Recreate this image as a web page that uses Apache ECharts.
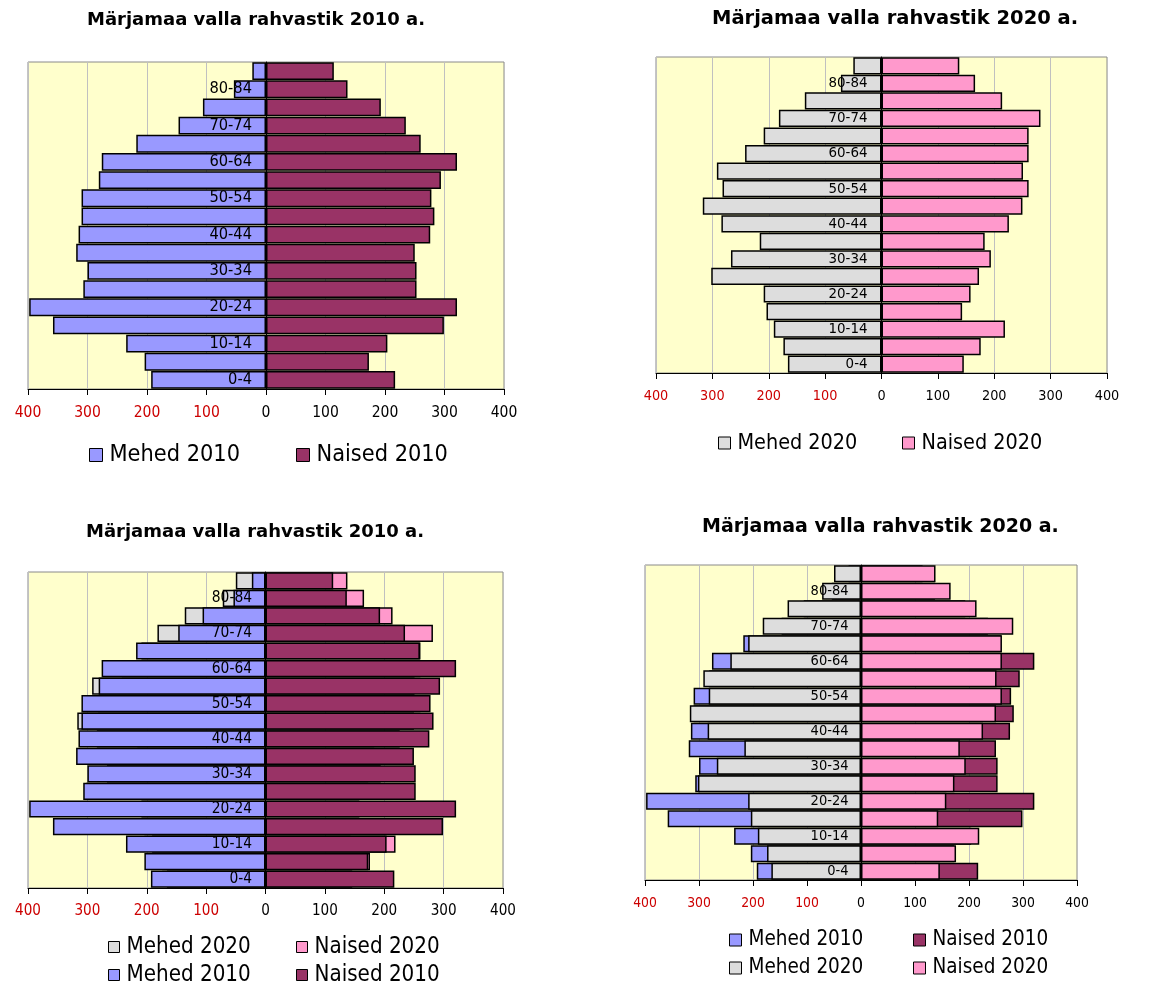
<!DOCTYPE html>
<html>
<head>
<meta charset="utf-8">
<script src="https://cdn.jsdelivr.net/npm/echarts@6/dist/echarts.min.js"></script>
<style>
html,body{margin:0;padding:0;background:#fff;}
#chart{width:1166px;height:984px;}
</style>
</head>
<body>
<div id="chart"></div>
<script>
// ---- data ----
const ageGroups = ['0-4','5-9','10-14','15-19','20-24','25-29','30-34','35-39','40-44','45-49','50-54','55-59','60-64','65-69','70-74','75-79','80-84','85+'];
const mehed2010  = [193,204,235,358,398,307,300,319,315,310,310,281,276,218,147,106,54,23];
const naised2010 = [217,173,204,299,321,253,253,250,276,283,278,294,321,260,235,193,137,114];
const mehed2020  = [166,174,191,204,209,302,267,216,284,317,282,292,242,209,182,136,72,50];
const naised2020 = [146,176,219,143,158,173,194,183,226,250,261,251,261,261,282,214,166,138];
const titles = ['Märjamaa valla rahvastik 2010 a.','Märjamaa valla rahvastik 2020 a.','Märjamaa valla rahvastik 2010 a.','Märjamaa valla rahvastik 2020 a.'];
const xTicks = [-400,-300,-200,-100,0,100,200,300,400];

const FONT = 'DejaVu Sans';
const FONT_N = 'DejaVu Sans Condensed';
const COLORS = {'Mehed 2010':'#9999FF','Naised 2010':'#993366','Mehed 2020':'#DDDDDD','Naised 2020':'#FF99CC'};
const VALUES = {'Mehed 2010':mehed2010,'Naised 2010':naised2010,'Mehed 2020':mehed2020,'Naised 2020':naised2020};

// panel layout
const panels = [
  {grid:{left:28,top:62,width:476,height:327}, title:{x:87,cy:20,fs:18}, tickFs:15.5, catFs:16.3, catMargin:14,
   series:['Mehed 2010','Naised 2010'],
   legend:{fs:23.3, sq:13, items:[{name:'Mehed 2010',x:89,cy:455},{name:'Naised 2010',x:296,cy:455}]}},
  {grid:{left:656,top:57,width:451,height:316}, title:{x:712,cy:19,fs:19.5}, tickFs:14.3, catFs:14.9, catMargin:14,
   series:['Mehed 2020','Naised 2020'],
   legend:{fs:21.4, sq:12, items:[{name:'Mehed 2020',x:718,cy:443},{name:'Naised 2020',x:902,cy:443}]}},
  {grid:{left:28,top:572,width:475,height:316}, title:{x:86,cy:532,fs:18}, tickFs:15.1, catFs:15.4, catMargin:13.5,
   series:['Mehed 2020','Naised 2020','Mehed 2010','Naised 2010'],
   legend:{fs:22.2, sq:11, items:[{name:'Mehed 2020',x:108,cy:947},{name:'Naised 2020',x:296,cy:947},{name:'Mehed 2010',x:108,cy:975},{name:'Naised 2010',x:296,cy:975}]}},
  {grid:{left:645,top:565,width:432,height:315}, title:{x:702,cy:527,fs:19}, tickFs:13.8, catFs:14.5, catMargin:12.5,
   series:['Mehed 2010','Naised 2010','Mehed 2020','Naised 2020'],
   legend:{fs:20.5, sq:12, items:[{name:'Mehed 2010',x:729,cy:940},{name:'Naised 2010',x:913,cy:940},{name:'Mehed 2020',x:729,cy:968},{name:'Naised 2020',x:913,cy:968}]}}
];

const option = {animation:false, backgroundColor:'#ffffff', title:[], grid:[], xAxis:[], yAxis:[], legend:[], series:[]};

panels.forEach((p, i) => {
  option.title.push({
    text: titles[i], left: p.title.x, top: p.title.cy - p.title.fs/2, padding: 0,
    textStyle: {fontFamily: FONT, fontWeight: 'bold', fontSize: p.title.fs, lineHeight: p.title.fs, color: '#000'}
  });
  option.grid.push({
    left: p.grid.left, top: p.grid.top, width: p.grid.width, height: p.grid.height,
    show: true, backgroundColor: '#FFFFCC', borderColor: '#8a8a8a', borderWidth: 1, containLabel: false
  });
  option.xAxis.push({
    type: 'value', gridIndex: i, min: xTicks[0], max: xTicks[xTicks.length-1], interval: 100,
    axisLine: {show: true, lineStyle: {color: '#000', width: 1}},
    axisTick: {show: true, length: 6, lineStyle: {color: '#000', width: 1}},
    splitLine: {show: true, lineStyle: {color: '#C0C0C0', width: 1}},
    axisLabel: {
      margin: 16, fontFamily: FONT_N, fontSize: p.tickFs,
      formatter: v => v < 0 ? '{r|' + (-v) + '}' : '{b|' + v + '}',
      rich: {r: {color: '#CC0000', fontFamily: FONT_N, fontSize: p.tickFs}, b: {color: '#000', fontFamily: FONT_N, fontSize: p.tickFs}}
    }
  });
  // category axis placed on the zero line (x range is symmetric, so zero is the grid centre)
  option.yAxis.push({
    type: 'category', gridIndex: i, data: ageGroups, z: 10,
    position: 'left', offset: -p.grid.width / 2,
    axisLine: {show: true, onZero: false, lineStyle: {color: '#000', width: 1}},
    axisTick: {show: false},
    splitLine: {show: false},
    axisLabel: {interval: 1, margin: p.catMargin, color: '#000', fontFamily: FONT_N, fontSize: p.catFs}
  });
  p.series.forEach(name => {
    const sign = name.startsWith('Mehed') ? -1 : 1;
    option.series.push({
      type: 'bar', name: name, xAxisIndex: i, yAxisIndex: i,
      data: VALUES[name].map(v => sign * v),
      barGap: '-100%', barCategoryGap: '2%',
      itemStyle: {color: COLORS[name], borderColor: '#000', borderWidth: 1.5},
      emphasis: {disabled: true}, silent: true
    });
  });
  p.legend.items.forEach(it => {
    const lh = Math.round(p.legend.fs * 1.2);
    option.legend.push({
      data: [it.name], left: it.x, top: it.cy - lh/2, padding: 0, icon: 'rect',
      itemWidth: p.legend.sq, itemHeight: p.legend.sq, selectedMode: false,
      itemStyle: {borderColor: '#000', borderWidth: 1},
      textStyle: {fontFamily: FONT_N, fontSize: p.legend.fs, lineHeight: lh, color: '#000', padding: [0,0,0,2]}
    });
  });
});

const chart = echarts.init(document.getElementById('chart'), null, {renderer: 'canvas'});
chart.setOption(option);
</script>
</body>
</html>
